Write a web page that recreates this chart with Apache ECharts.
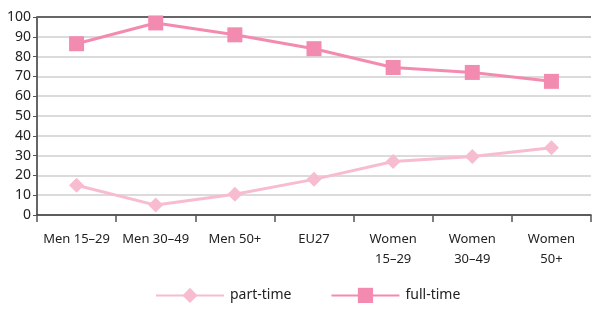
<!DOCTYPE html>
<html>
<head>
<meta charset="utf-8">
<script src="https://cdn.jsdelivr.net/npm/echarts@6/dist/echarts.min.js"></script>
<style>
html,body{margin:0;padding:0;background:#fff;}
#chart{width:592px;height:309px;}
</style>
</head>
<body>
<div id="chart"></div>
<script>
var categories = ['Men 15–29', 'Men 30–49', 'Men 50+', 'EU27', 'Women\n15–29', 'Women\n30–49', 'Women\n50+'];
var partTime = [15, 5, 10.5, 18, 27, 29.5, 34];
var fullTime = [86.5, 97, 91, 84, 74.5, 72, 67.5];
var yTicks = [0, 10, 20, 30, 40, 50, 60, 70, 80, 90, 100];

var partColor = '#f8bcd0';
var fullColor = '#f38bb0';

var myChart = echarts.init(document.getElementById('chart'));

// grid lines grey, the top one dark like the frame
var splitColors = yTicks.map(function(v){ return v === 100 ? '#333' : '#cfcfcf'; });

var option = {
	animation: false,
	textStyle: { fontFamily: 'Noto Sans' },
	grid: { left: 37, right: 1, top: 17, bottom: 94, containLabel: false },
	xAxis: {
		type: 'category',
		data: categories,
		boundaryGap: true,
		axisLine: { lineStyle: { color: '#333', width: 1.5 } },
		axisTick: { show: true, length: 7, lineStyle: { color: '#555', width: 1.5 } },
		axisLabel: { color: '#222', fontSize: 13, lineHeight: 20, margin: 14, interval: 0 }
	},
	yAxis: {
		type: 'value',
		min: 0, max: 100, interval: 10,
		axisLine: { show: true, lineStyle: { color: '#666', width: 2 } },
		axisTick: { show: true, length: 4, lineStyle: { color: '#555' } },
		axisLabel: { color: '#222', fontSize: 14, margin: 6 },
		splitLine: { lineStyle: { color: splitColors, width: 1.5 } }
	},
	legend: {
		bottom: 1,
		left: 150,
		itemWidth: 68,
		itemHeight: 19,
		itemGap: 39,
		textStyle: { color: '#222', fontSize: 14, padding: [0, 0, 0, 1] },
		data: ['part-time', 'full-time']
	},
	series: [
		{
			name: 'part-time',
			type: 'line',
			data: partTime,
			symbol: 'diamond',
			symbolSize: 15,
			lineStyle: { color: partColor, width: 3 },
			itemStyle: { color: partColor }
		},
		{
			name: 'full-time',
			type: 'line',
			data: fullTime,
			symbol: 'rect',
			symbolSize: 15,
			lineStyle: { color: fullColor, width: 3 },
			itemStyle: { color: fullColor }
		}
	]
};

myChart.setOption(option);
</script>
</body>
</html>
